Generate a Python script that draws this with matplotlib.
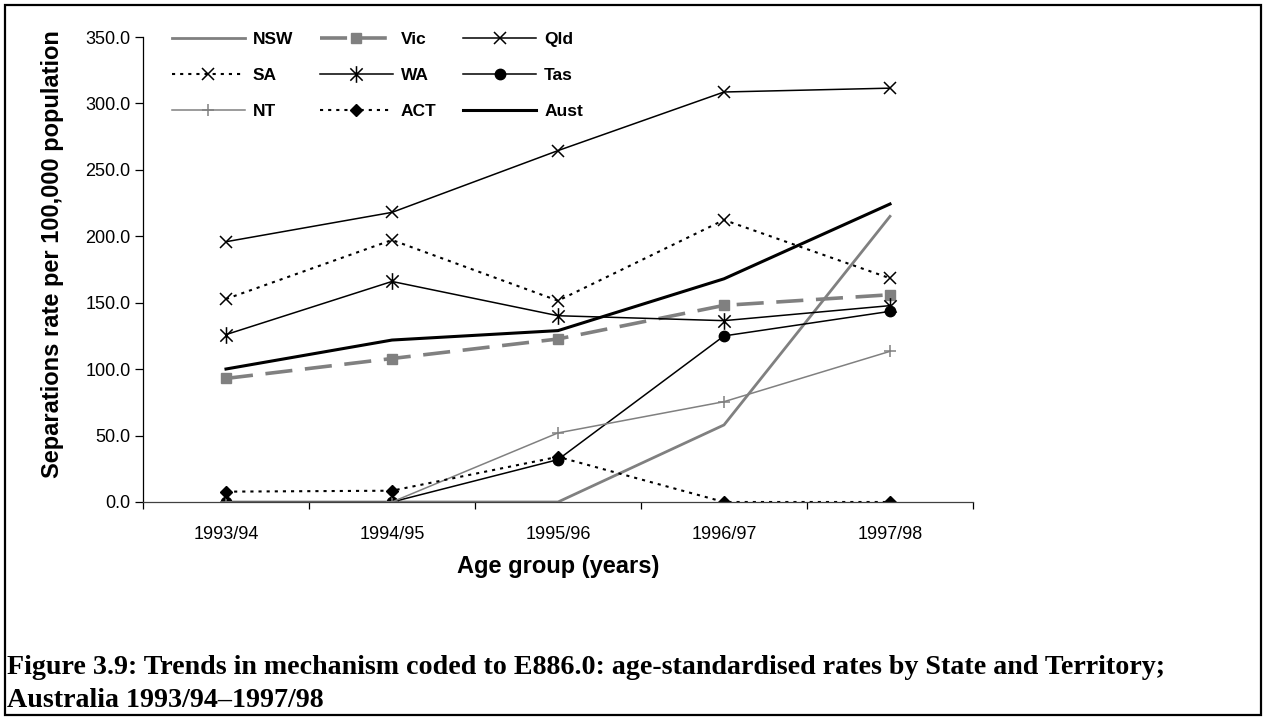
import matplotlib
matplotlib.use('Agg')
import matplotlib.pyplot as plt
from matplotlib.path import Path
from matplotlib.patches import Rectangle
import numpy as np

plt.rcParams['font.family'] = ['Liberation Sans', 'DejaVu Sans']

years = ['1993/94', '1994/95', '1995/96', '1996/97', '1997/98']
nsw = [0.0, 0.0, 0.0, 58.0, 215.0]
vic = [93.0, 108.0, 122.7, 148.0, 156.0]
qld = [195.9, 218.0, 264.5, 308.6, 311.5]
sa = [152.8, 197.2, 151.5, 212.3, 168.4]
wa = [126.0, 166.0, 140.2, 136.5, 147.8]
tas = [0.0, 0.0, 31.9, 125.0, 143.5]
nt = [0.0, 0.0, 52.0, 75.5, 113.4]
act = [7.8, 8.5, 34.0, 0.0, 0.0]
aust = [100.1, 121.9, 129.0, 168.0, 224.3]

gray = '#808080'
# excel style star: an x with a vertical bar through it
star = Path([(-1, -1), (1, 1), (-1, 1), (1, -1), (0, -1.35), (0, 1.35)],
            [Path.MOVETO, Path.LINETO, Path.MOVETO, Path.LINETO, Path.MOVETO, Path.LINETO])

fig = plt.figure(figsize=(12.66, 7.2), dpi=100)
ax = fig.add_axes([143 / 1266, 1 - 502 / 720, (973 - 143) / 1266, (502 - 37) / 720])
x = np.arange(len(years))
dots = (0, (1.5, 2.4))

l_nsw, = ax.plot(x, nsw, color=gray, lw=2.0, label='NSW')
l_vic, = ax.plot(x, vic, color=gray, lw=2.6, ls=(0, (7.5, 3.5)), marker='s', ms=7, mec=gray, mfc=gray, label='Vic')
l_qld, = ax.plot(x, qld, color='black', lw=1.1, marker='x', ms=8, mew=1.1, label='Qld')
l_sa, = ax.plot(x, sa, color='black', lw=1.5, ls=dots, marker='x', ms=8, mew=1.1, label='SA')
l_wa, = ax.plot(x, wa, color='black', lw=1.1, marker=star, ms=12, mew=1.1, label='WA')
l_tas, = ax.plot(x, tas, color='black', lw=1.1, marker='o', ms=7.5, label='Tas')
l_nt, = ax.plot(x, nt, color=gray, lw=1.1, marker='+', ms=9, mew=1.1, label='NT')
l_act, = ax.plot(x, act, color='black', lw=1.5, ls=dots, marker='D', ms=6, label='ACT')
l_aust, = ax.plot(x, aust, color='black', lw=2.2, label='Aust')

ax.set_xlim(-0.5, len(years) - 0.5)
ax.set_ylim(0, 350)
ax.set_yticks(np.arange(0, 351, 50))
ax.set_yticklabels(['%.1f' % v for v in np.arange(0, 351, 50)], fontsize=13)
ax.set_xticks(np.arange(-0.5, len(years)), labels=[])
ax.set_xticks(x, labels=years, minor=True, fontsize=13)
ax.tick_params(axis='x', which='major', direction='out', length=5, width=0.9)
ax.tick_params(axis='x', which='minor', length=0, pad=17)
ax.tick_params(axis='y', direction='out', length=5.5, width=0.9, pad=3.5)
for s in ['top', 'right']:
    ax.spines[s].set_visible(False)
ax.spines['left'].set_linewidth(0.9)
ax.spines['bottom'].set_linewidth(0.9)
ax.spines['bottom'].set_color('#404040')

ax.set_ylabel('Separations rate per 100,000 population', fontsize=17, fontweight='bold')
ax.yaxis.set_label_coords(-0.0952, 0.533)
ax.set_xlabel('Age group (years)', fontsize=17, fontweight='bold', labelpad=9)

# legend fills column-wise, reorder so rows read NSW Vic Qld / SA WA Tas / NT ACT Aust
handles = [l_nsw, l_sa, l_nt, l_vic, l_wa, l_act, l_qld, l_tas, l_aust]
leg = fig.legend(handles=handles, labels=[h.get_label() for h in handles], ncol=3,
                 loc='upper left', bbox_to_anchor=(172 / 1266, 1 - 32 / 720),
                 frameon=False, prop={'weight': 'bold', 'size': 12.5},
                 handlelength=4.2, handletextpad=0.45, columnspacing=1.55,
                 labelspacing=1.2, numpoints=1, borderpad=0, borderaxespad=0)

cap_font = dict(family='Liberation Serif', fontweight='bold', fontsize=20.2, va='baseline')
fig.text(7 / 1266, 1 - 674 / 720,
         'Figure 3.9: Trends in mechanism coded to E886.0: age-standardised rates by State and Territory;',
         **cap_font)
fig.text(7 / 1266, 1 - 707 / 720, 'Australia 1993/94\u20131997/98', **cap_font)

fig.patches.append(Rectangle((5 / 1266, 5 / 720), 1256 / 1266, 710 / 720, transform=fig.transFigure,
                             fill=False, ec='black', lw=1.6))

fig.savefig('out.png', dpi=100)
plt.close()
